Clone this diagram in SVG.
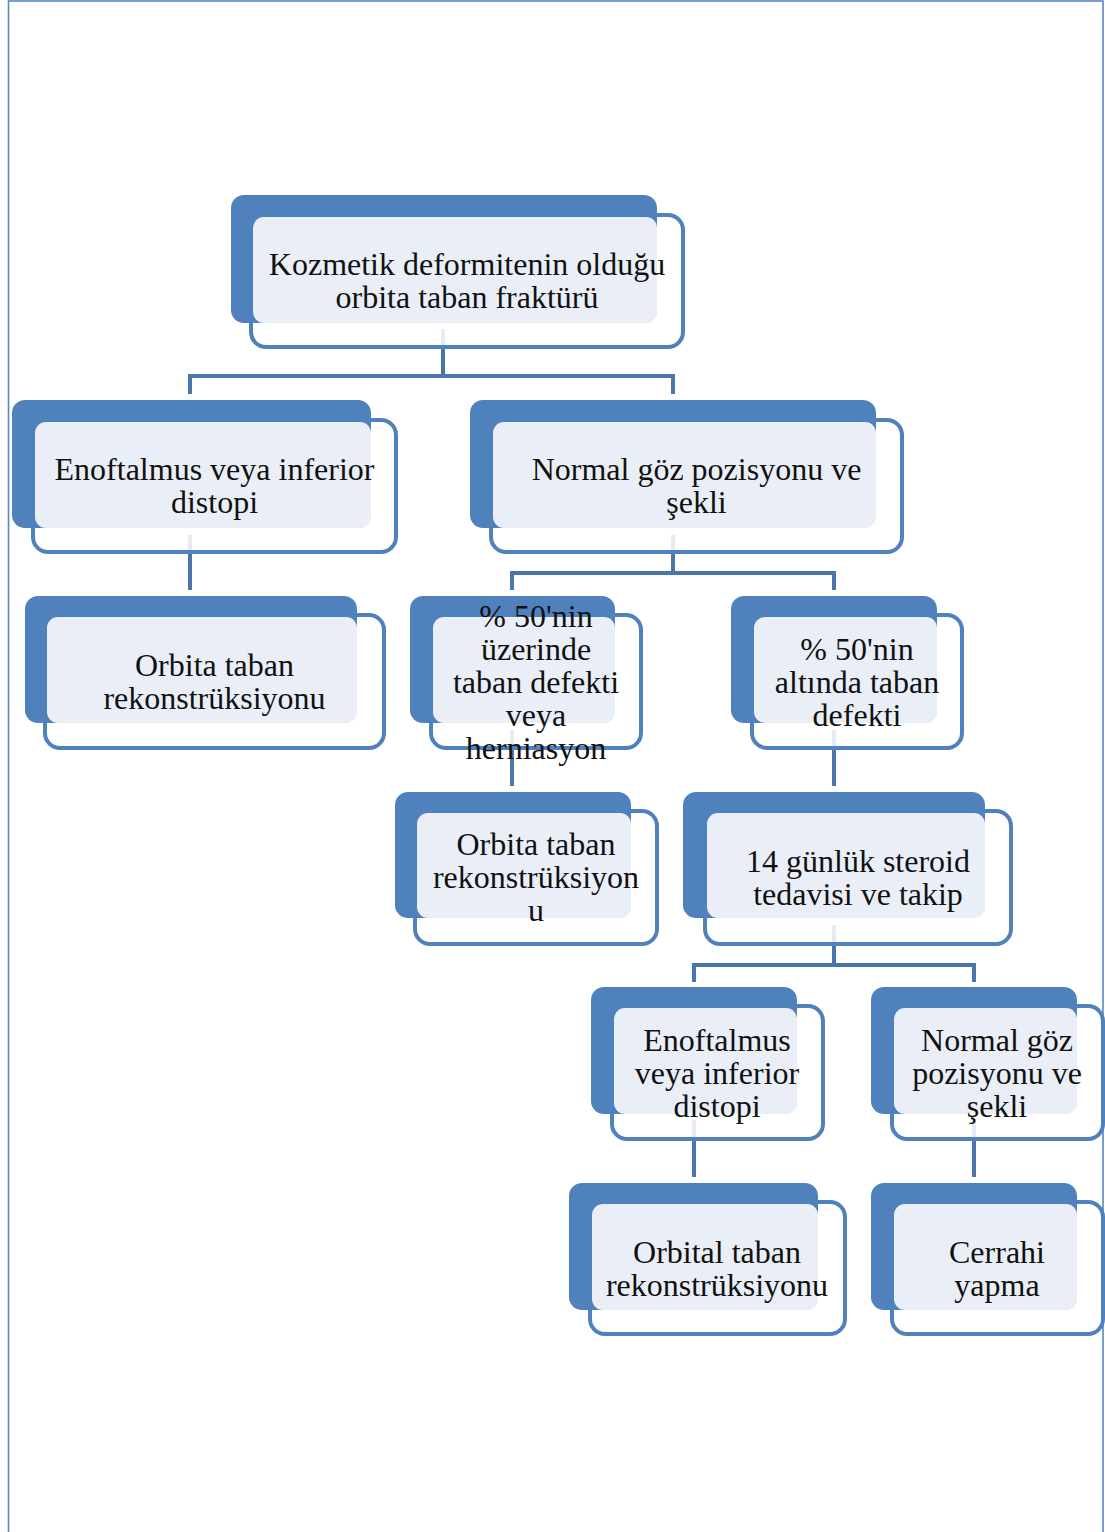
<svg xmlns="http://www.w3.org/2000/svg" width="1105" height="1532" viewBox="0 0 1105 1532">
<style>
.page{fill:#ffffff;stroke:#5a87c1;stroke-width:1.6}
.ol{fill:#ffffff;fill-opacity:0.86;stroke:#4f81bd;stroke-width:4}
.dk{fill:#4f81bd}
.lt{fill:#eaeff7}
.cn{fill:none;stroke:#4a76ab;stroke-width:4;stroke-linejoin:miter}
.tx{font-family:"Liberation Serif","Times New Roman",serif;font-size:32px;fill:#111111;text-anchor:middle}
</style>
<rect x="0" y="0" width="1105" height="1532" fill="#ffffff"/>
<rect class="page" x="8.5" y="1" width="1094.5" height="1545"/>
<g id="connectors">
<path class="cn" d="M443,329 V376 M190,394 V376 H673 V394"/>
<path class="cn" d="M190,535 V590"/>
<path class="cn" d="M673,535 V573 M512,590 V573 H834 V590"/>
<path class="cn" d="M512,730 V786"/>
<path class="cn" d="M834,730 V786"/>
<path class="cn" d="M834,925 V965 M694,982 V965 H974 V982"/>
<path class="cn" d="M694,1120 V1177"/>
<path class="cn" d="M974,1120 V1177"/>
</g>
<g id="n1">
<rect class="ol" x="251" y="215" width="432" height="132" rx="15"/>
<rect class="dk" x="231" y="195" width="426" height="128" rx="13"/>
<rect class="lt" x="253" y="217" width="404" height="106" rx="11"/>
<text class="tx" x="467" y="275">Kozmetik deformitenin olduğu</text>
<text class="tx" x="467" y="308">orbita taban fraktürü</text>
</g>
<g id="n2l">
<rect class="ol" x="33" y="420" width="363" height="132" rx="15"/>
<rect class="dk" x="12" y="400" width="359" height="128" rx="13"/>
<rect class="lt" x="35" y="422" width="336" height="106" rx="11"/>
<text class="tx" x="214.5" y="480">Enoftalmus veya inferior</text>
<text class="tx" x="214.5" y="513">distopi</text>
</g>
<g id="n2r">
<rect class="ol" x="491" y="420" width="411" height="132" rx="15"/>
<rect class="dk" x="470" y="400" width="406" height="128" rx="13"/>
<rect class="lt" x="493" y="422" width="383" height="106" rx="11"/>
<text class="tx" x="696.5" y="480">Normal göz pozisyonu ve</text>
<text class="tx" x="696.5" y="513">şekli</text>
</g>
<g id="n3a">
<rect class="ol" x="45" y="615" width="339" height="133" rx="15"/>
<rect class="dk" x="25" y="596" width="332" height="127" rx="13"/>
<rect class="lt" x="47" y="617" width="310" height="106" rx="11"/>
<text class="tx" x="214.5" y="676">Orbita taban</text>
<text class="tx" x="214.5" y="709">rekonstrüksiyonu</text>
</g>
<g id="n3b">
<rect class="ol" x="431" y="615" width="210" height="133" rx="15"/>
<rect class="dk" x="410" y="596" width="205" height="127" rx="13"/>
<rect class="lt" x="433" y="617" width="182" height="106" rx="11"/>
<text class="tx" x="536" y="627">% 50'nin</text>
<text class="tx" x="536" y="660">üzerinde</text>
<text class="tx" x="536" y="693">taban defekti</text>
<text class="tx" x="536" y="726">veya</text>
<text class="tx" x="536" y="759">herniasyon</text>
</g>
<g id="n3c">
<rect class="ol" x="752" y="615" width="210" height="133" rx="15"/>
<rect class="dk" x="731" y="596" width="206" height="127" rx="13"/>
<rect class="lt" x="754" y="617" width="183" height="106" rx="11"/>
<text class="tx" x="857" y="660">% 50'nin</text>
<text class="tx" x="857" y="693">altında taban</text>
<text class="tx" x="857" y="726">defekti</text>
</g>
<g id="n4a">
<rect class="ol" x="415" y="811" width="242" height="133" rx="15"/>
<rect class="dk" x="395" y="792" width="236" height="126" rx="13"/>
<rect class="lt" x="417" y="813" width="214" height="105" rx="11"/>
<text class="tx" x="536" y="855">Orbita taban</text>
<text class="tx" x="536" y="888">rekonstrüksiyon</text>
<text class="tx" x="536" y="921">u</text>
</g>
<g id="n4b">
<rect class="ol" x="705" y="811" width="306" height="133" rx="15"/>
<rect class="dk" x="683" y="792" width="302" height="126" rx="13"/>
<rect class="lt" x="707" y="813" width="278" height="105" rx="11"/>
<text class="tx" x="858" y="872">14 günlük steroid</text>
<text class="tx" x="858" y="905">tedavisi ve takip</text>
</g>
<g id="n5a">
<rect class="ol" x="612" y="1006" width="211" height="133" rx="15"/>
<rect class="dk" x="591" y="987" width="206" height="127" rx="13"/>
<rect class="lt" x="614" y="1008" width="183" height="106" rx="11"/>
<text class="tx" x="717" y="1051">Enoftalmus</text>
<text class="tx" x="717" y="1084">veya inferior</text>
<text class="tx" x="717" y="1117">distopi</text>
</g>
<g id="n5b">
<rect class="ol" x="892" y="1006" width="211" height="133" rx="15"/>
<rect class="dk" x="871" y="987" width="206" height="127" rx="13"/>
<rect class="lt" x="894" y="1008" width="183" height="106" rx="11"/>
<text class="tx" x="997" y="1051">Normal göz</text>
<text class="tx" x="997" y="1084">pozisyonu ve</text>
<text class="tx" x="997" y="1117">şekli</text>
</g>
<g id="n6a">
<rect class="ol" x="590" y="1202" width="255" height="132" rx="15"/>
<rect class="dk" x="569" y="1183" width="249" height="127" rx="13"/>
<rect class="lt" x="592" y="1204" width="226" height="106" rx="11"/>
<text class="tx" x="717" y="1263">Orbital taban</text>
<text class="tx" x="717" y="1296">rekonstrüksiyonu</text>
</g>
<g id="n6b">
<rect class="ol" x="892" y="1202" width="211" height="132" rx="15"/>
<rect class="dk" x="871" y="1183" width="206" height="127" rx="13"/>
<rect class="lt" x="894" y="1204" width="183" height="106" rx="11"/>
<text class="tx" x="997" y="1263">Cerrahi</text>
<text class="tx" x="997" y="1296">yapma</text>
</g>
</svg>
